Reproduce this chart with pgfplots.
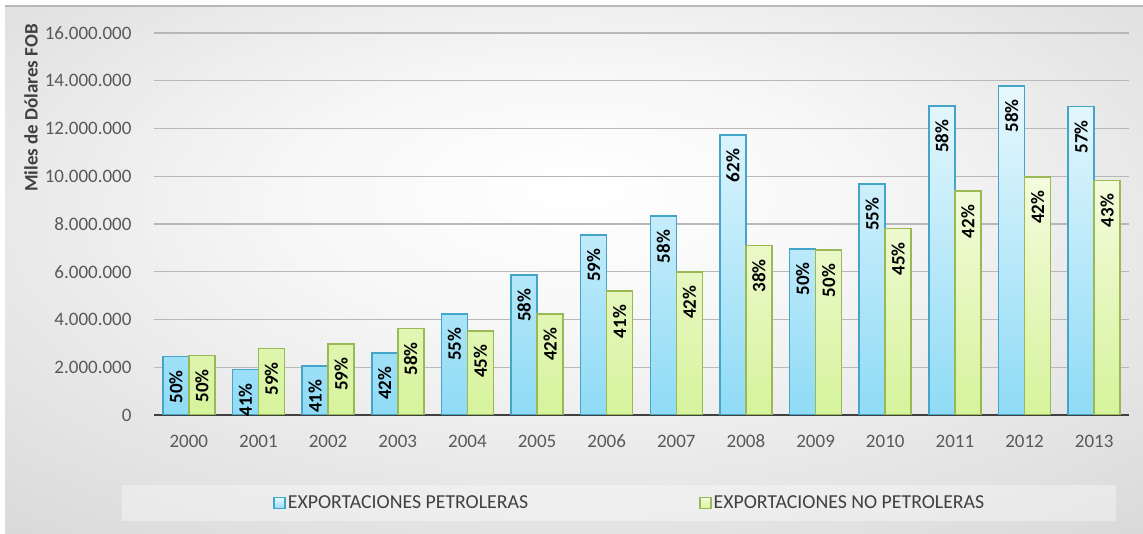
\documentclass[border=0pt]{standalone}
\usepackage{pgfplots}
\pgfplotsset{compat=1.18}
\usepackage{pgfplotstable}
\usepackage{fontspec}
\setmainfont{Carlito}

\definecolor{bluetop}{HTML}{E8F8FD}
\definecolor{bluebot}{HTML}{8FDBF6}
\definecolor{blueedge}{HTML}{45A5C8}
\definecolor{greentop}{HTML}{F4FBDD}
\definecolor{greenbot}{HTML}{D6F39C}
\definecolor{greenedge}{HTML}{98B954}
\definecolor{ticktxt}{HTML}{595959}
\definecolor{labtxt}{HTML}{404040}
\definecolor{gridc}{HTML}{B8B8B8}

\pgfdeclareradialshading{fondo}{\pgfpoint{0bp}{8bp}}{%
  color(0bp)=(white); color(12bp)=(white!97!black);
  color(50bp)=(white!80!black); color(75bp)=(white!76!black)}

% miles de dolares FOB y participacion (%)
\pgfplotstableread{
x pet ppet nopet pnopet
0  2442420 50 2484335 50
1  1899994 41 2778443 59
2  2054988 41 2981570 59
3  2606819 42 3616021 58
4  4233993 55 3518829 45
5  5869850 58 4230450 42
6  7544510 59 5183676 41
7  8328566 58 5993218 42
8  11720589 62 7097723 38
9  6964639 50 6898372 50
10 9673228 55 7816700 45
11 12944868 58 9377487 42
12 13791957 58 9972717 42
13 12920000 57 9830000 43
}\datos

\newcommand{\f}{\fontsize{19}{22}\selectfont}

\begin{document}
\begin{tikzpicture}[x=1pt,y=1pt]
\useasboundingbox (0,0) rectangle (1143,534);
\fill[white] (0,0) rectangle (1143,534);
\shade[shading=fondo] (5,0) rectangle (1143,528);
\draw[white!72!black, line width=1.5pt] (5,528) -- (1143,528);
\fill[white, opacity=0.35] (122,13) rectangle (1116,49);

\node[rotate=90, font=\f\bfseries, text=labtxt] at (31,426) {Miles de Dólares FOB};

\begin{axis}[
    at={(154pt,119pt)}, anchor=south west,
    scale only axis, width=975pt, height=382pt,
    ybar=0pt, bar width=26pt,
    xmin=-0.5, xmax=13.5,
    ymin=0, ymax=16000000,
    ytick={0,2000000,4000000,6000000,8000000,10000000,12000000,14000000,16000000},
    scaled y ticks=false,
    yticklabel style={/pgf/number format/fixed, /pgf/number format/1000 sep={.},
        /pgf/number format/assume math mode=true, /tikz/xshift=-19pt},
    ticklabel style={font=\f, text=ticktxt},
    xtick={0,...,13},
    xticklabels={2000,2001,2002,2003,2004,2005,2006,2007,2008,2009,2010,2011,2012,2013},
    xticklabel style={yshift=-12pt},
    xtick style={draw=none},
    ytick style={draw=none},
    extra x ticks={-0.5,0.5,1.5,2.5,3.5,4.5,5.5,6.5,7.5,8.5,9.5,10.5,11.5,12.5,13.5},
    extra x tick labels={},
    extra x tick style={major tick length=7pt, tick align=outside,
        tick style={draw=black!75, line width=1.6pt}},
    ymajorgrids,
    major grid style={gridc, line width=1.2pt},
    axis lines*=left,
    x axis line style={draw=black!75, line width=2pt},
    y axis line style={draw=none},
    point meta=explicit symbolic,
    nodes near coords={\pgfplotspointmeta\%},
    every node near coord/.append style={rotate=90, anchor=east, inner xsep=13pt,
        font=\f\bfseries, text=black},
    legend columns=2,
    legend style={at={(axis description cs:0.488,-0.2304)}, anchor=center,
        draw=none, fill=none, font=\fontsize{19.8}{22}\selectfont, text=labtxt,
        nodes={inner xsep=2pt},
        /tikz/every even column/.append style={column sep=169pt}},
    legend image code/.code={\draw[#1, line width=1.5pt] (0pt,-5.5pt) rectangle (11pt,5.5pt);},
]
\addplot[draw=blueedge, line width=1.6pt, top color=bluetop, bottom color=bluebot]
    table[x=x, y=pet, meta=ppet]{\datos};
\addplot[draw=greenedge, line width=1.6pt, top color=greentop, bottom color=greenbot]
    table[x=x, y=nopet, meta=pnopet]{\datos};
\legend{EXPORTACIONES PETROLERAS, EXPORTACIONES NO PETROLERAS}
\end{axis}
\end{tikzpicture}
\end{document}
